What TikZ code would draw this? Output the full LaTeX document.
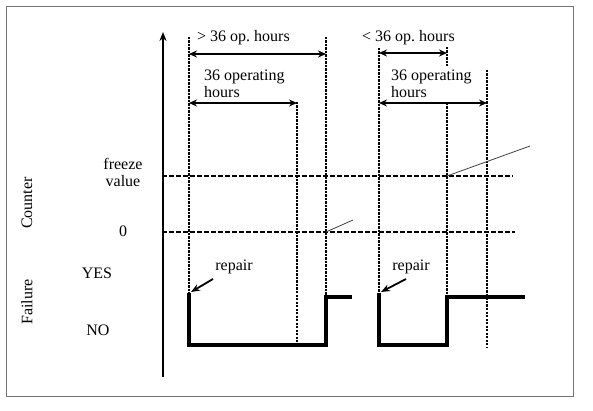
\documentclass[tikz,border=0pt]{standalone}
\usepackage{fontspec}
\setmainfont{Liberation Serif}
\usetikzlibrary{arrows.meta,positioning}
\tikzset{
  frame/.style={draw=black!55, line width=1pt},
  timeaxis/.style={-{Stealth[length=9pt,width=7pt]}, line width=1.8pt},
  marker/.style={draw, line width=2pt, dash pattern=on 2.2pt off 1.3pt},
  level/.style={draw, line width=1.5pt, dash pattern=on 4.5pt off 2.5pt},
  span/.style={{Stealth[length=8pt,width=7pt]}-{Stealth[length=8pt,width=7pt]}, line width=1.6pt},
  failure/.style={line width=3.4pt, line join=miter},
  ramp/.style={line width=0.8pt, draw=black!75},
  pointer/.style={-{Stealth[length=9pt,width=7pt]}, line width=1.8pt},
  lbl/.style={font=\fontsize{16}{17}\selectfont, inner sep=0pt, align=left}
}

\begin{document}
\begin{tikzpicture}[x=1pt, y=-1pt]
  \useasboundingbox (0,0) rectangle (593,411);
  \draw[frame] (6,7) rectangle (573,396);

  % time axis
  \coordinate (axis0) at (163,377);
  \coordinate (axis1) at (163,32);
  \draw[timeaxis] (axis0) -- (axis1);

  % event markers
  \coordinate (l1top) at (189,37);  \coordinate (l1bot) at (189,293);
  \coordinate (l2top) at (297,102); \coordinate (l2bot) at (297,345);
  \coordinate (l3top) at (326,37);  \coordinate (l3bot) at (326,297);
  \coordinate (r1top) at (379,48);  \coordinate (r1bot) at (379,293);
  \coordinate (r2top) at (447,47);  \coordinate (r2bot) at (447,297);
  \coordinate (r3top) at (487,70);  \coordinate (r3bot) at (487,347);
  \foreach \m in {l1,l2,l3,r1,r2,r3}
    \draw[marker] (\m top) -- (\m bot);

  % counter levels
  \coordinate (fz0) at (162,176); \coordinate (fz1) at (513,176);
  \coordinate (zr0) at (162,232); \coordinate (zr1) at (515,232);
  \draw[level] (fz0) -- (fz1);
  \draw[level] (zr0) -- (zr1);

  % spans
  \coordinate (sa0) at (189,54);  \coordinate (sa1) at (326,54);
  \coordinate (sb0) at (189,103); \coordinate (sb1) at (297,103);
  \coordinate (sc0) at (379,53);  \coordinate (sc1) at (447,53);
  \coordinate (sd0) at (379,103); \coordinate (sd1) at (487,103);
  \draw[span] (sa0) -- (sa1);
  \draw[span] (sb0) -- (sb1);
  \draw[span] (sc0) -- (sc1);
  \draw[span] (sd0) -- (sd1);
  \node[lbl, anchor=west] (more) at (197,38) {> 36 op.\ hours};
  \node[lbl, anchor=west] (oph1) at (204,84) {36 operating\\hours};
  \node[lbl, anchor=west] (less) at (362,38) {< 36 op.\ hours};
  \node[lbl, anchor=west, fill=white, inner ysep=4pt] (oph2) at (391,84) {36 operating\\hours};

  % counter ramps
  \coordinate (ra0) at (326,232); \coordinate (ra1) at (353,220);
  \coordinate (rb0) at (447,176); \coordinate (rb1) at (530,146);
  \draw[ramp] (ra0) -- (ra1);
  \draw[ramp] (rb0) -- (rb1);

  % failure signal
  \coordinate (fa4) at (352,297); \coordinate (fb4) at (525,297);
  \draw[failure] (l1bot) |- (l3top |- l2bot) -- (l3bot) -- (fa4);
  \draw[failure] (r1bot) |- (r2top |- l2bot) -- (r2bot) -- (fb4);

  % repair notes
  \node[lbl] (rep1) at (234,267) {repair};
  \node[lbl] (rep2) at (411,267) {repair};
  \coordinate (pa0) at (213,279); \coordinate (pa1) at (191,292);
  \coordinate (pb0) at (406,279); \coordinate (pb1) at (381,292);
  \draw[pointer] (pa0) -- (pa1);
  \draw[pointer] (pb0) -- (pb1);

  % axis labels
  \node[lbl, align=center] (frz) at (123,172) {freeze\\value};
  \node[lbl] (zero) at (123,231) {0};
  \node[lbl] (yes) at (97,273) {YES};
  \node[lbl] (no) at (98,330) {NO};
  \node[lbl, rotate=90] (cnt) at (27,203) {Counter};
  \node[lbl, rotate=90] (fail) at (27,302) {Failure};
\end{tikzpicture}
\end{document}
